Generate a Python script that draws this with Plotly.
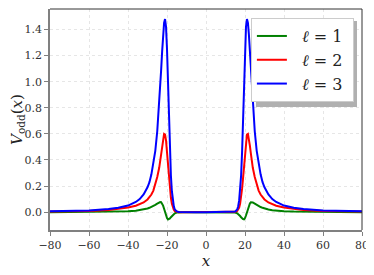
import plotly.graph_objects as go

x_vals = [-80, -70, -60, -50, -45, -40, -36, -34, -32, -30, -29, -28, -27, -26, -25,
          -24, -23.5, -23, -22.5, -22, -21.5, -21, -20.5, -20, -19.5, -19, -18.5, -18,
          -17.5, -17, -16.5, -16, -15, -14, -12, -10, -5,
          0,
          5, 10, 12, 14, 15, 16, 16.5, 17, 17.5, 18, 18.5, 19, 19.5, 20, 20.5, 21,
          21.5, 22, 22.5, 23, 23.5, 24, 25, 26, 27, 28, 29, 30, 32, 34, 36, 40, 45,
          50, 60, 70, 80]

v_l1 = [0.0, 0.0005, 0.001, 0.003, 0.004, 0.007, 0.011, 0.015, 0.02, 0.028, 0.033, 0.039, 0.046, 0.055, 0.065,
        0.074, 0.077, 0.076, 0.067, 0.05, 0.026, 0.0, -0.026, -0.046, -0.056, -0.054, -0.048, -0.039,
        -0.03, -0.021, -0.014, -0.009, -0.003, -0.001, 0.0, 0.0, 0.0,
        0.0,
        0.0, 0.0, 0.0, -0.001, -0.003, -0.009, -0.014, -0.021, -0.03, -0.039, -0.048, -0.054, -0.056, -0.046, -0.026, 0.0,
        0.026, 0.05, 0.067, 0.076, 0.077, 0.074, 0.065, 0.055, 0.046, 0.039, 0.033, 0.028, 0.02, 0.015, 0.011, 0.007, 0.004,
        0.003, 0.001, 0.0005, 0.0]

v_l2 = [0.004, 0.006, 0.009, 0.016, 0.023, 0.035, 0.049, 0.059, 0.074, 0.097, 0.113, 0.135, 0.165, 0.21, 0.27,
        0.34, 0.39, 0.45, 0.51, 0.565, 0.6, 0.595, 0.55, 0.46, 0.36, 0.26, 0.18, 0.11,
        0.065, 0.035, 0.018, 0.008, 0.002, 0.0, 0.0, 0.0, 0.0,
        0.0,
        0.0, 0.0, 0.0, 0.0, 0.002, 0.008, 0.018, 0.035, 0.065, 0.11, 0.18, 0.26, 0.36, 0.46, 0.55, 0.595,
        0.6, 0.565, 0.51, 0.45, 0.39, 0.34, 0.27, 0.21, 0.165, 0.135, 0.113, 0.097, 0.074, 0.059, 0.049, 0.035, 0.023,
        0.016, 0.009, 0.006, 0.004]

v_l3 = [0.006, 0.008, 0.013, 0.024, 0.034, 0.05, 0.078, 0.10, 0.135, 0.19, 0.23, 0.29, 0.37, 0.47, 0.62,
        0.82, 0.95, 1.09, 1.23, 1.36, 1.45, 1.48, 1.42, 1.25, 0.98, 0.72, 0.46, 0.28,
        0.16, 0.09, 0.045, 0.02, 0.005, 0.001, 0.0, 0.0, 0.0,
        0.0,
        0.0, 0.0, 0.0, 0.001, 0.005, 0.02, 0.045, 0.09, 0.16, 0.28, 0.46, 0.72, 0.98, 1.25, 1.42, 1.48,
        1.45, 1.36, 1.23, 1.09, 0.95, 0.82, 0.62, 0.47, 0.37, 0.29, 0.23, 0.19, 0.135, 0.10, 0.078, 0.05, 0.034,
        0.024, 0.013, 0.008, 0.006]

series_names = ["\u00a0\u00a0<i>ℓ</i> = 1\u00a0", "\u00a0\u00a0<i>ℓ</i> = 2\u00a0", "\u00a0\u00a0<i>ℓ</i> = 3\u00a0"]
series_colors = ["#008000", "#ff0000", "#0000ff"]
x_ticks = [-80, -60, -40, -20, 0, 20, 40, 60, 80]
x_tick_text = ["\u221280", "\u221260", "\u221240", "\u221220", "0", "20", "40", "60", "80"]
y_ticks = [0.0, 0.2, 0.4, 0.6, 0.8, 1.0, 1.2, 1.4]
y_tick_text = ["0.0", "0.2", "0.4", "0.6", "0.8", "1.0", "1.2", "1.4"]

FONT = "DejaVu Serif, Liberation Serif, serif"

fig = go.Figure()
for name, ys, col in zip(series_names, [v_l1, v_l2, v_l3], series_colors):
    fig.add_trace(go.Scatter(x=x_vals, y=ys, mode="lines", name=name,
                             line=dict(color=col, width=2)))

fig.update_layout(
    width=366, height=267,
    margin=dict(l=42, r=12, t=1, b=45),
    paper_bgcolor="white", plot_bgcolor="white",
    font=dict(family=FONT, size=11, color="#333"),
    showlegend=True,
    legend=dict(x=0.974, y=0.959, xanchor="right", yanchor="top",
                bgcolor="white", bordercolor="#cccccc", borderwidth=1,
                font=dict(family=FONT, size=16, color="#222")),
    xaxis=dict(range=[-80, 80], tickvals=x_ticks, ticktext=x_tick_text,
               showgrid=True, gridcolor="#e6e6e6", griddash="dot", gridwidth=1,
               zeroline=False, showline=True, linecolor="#808080", linewidth=1.5,
               ticks="outside", ticklen=4, tickcolor="#808080", tickwidth=1,
               tickfont=dict(family=FONT, size=11, color="#333"),
               title=dict(text="<i>x</i>", font=dict(family=FONT, size=15, color="#222"), standoff=4)),
    yaxis=dict(range=[-0.137, 1.557], tickvals=y_ticks, ticktext=y_tick_text,
               showgrid=True, gridcolor="#e6e6e6", griddash="dot", gridwidth=1,
               zeroline=False, showline=True, linecolor="#808080", linewidth=1.5,
               ticks="outside", ticklen=4, tickcolor="#808080", tickwidth=1,
               tickfont=dict(family=FONT, size=11, color="#333"),
               title=dict(text="<i>V</i><sub>odd</sub>(<i>x</i>)",
                          font=dict(family=FONT, size=15, color="#222"), standoff=3)),
    shapes=[
        dict(type="rect", xref="paper", yref="paper", x0=0.660, x1=0.984, y0=0.557, y1=0.946,
             fillcolor="#b0b0b0", line=dict(width=0), layer="above"),
        dict(type="line", xref="paper", yref="paper", x0=0, x1=1, y0=1, y1=1,
             line=dict(color="#333333", width=1)),
        dict(type="line", xref="paper", yref="paper", x0=1, x1=1, y0=0, y1=1,
             line=dict(color="#333333", width=1)),
    ],
)

fig.write_html("out.html")
